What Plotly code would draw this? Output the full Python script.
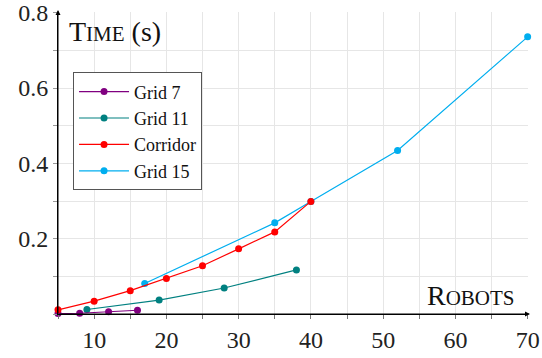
import plotly.graph_objects as go

grid7_x = [5, 8, 12, 16]
grid7_y = [0.001, 0.002, 0.006, 0.010]
grid11_x = [9, 19, 28, 38]
grid11_y = [0.012, 0.037, 0.069, 0.117]
corridor_x = [5, 10, 15, 20, 25, 30, 35, 40]
corridor_y = [0.011, 0.034, 0.062, 0.094, 0.128, 0.173, 0.218, 0.299]
grid15_x = [17, 35, 40, 52, 70]
grid15_y = [0.081, 0.242, 0.299, 0.434, 0.736]

x_ticks = [10, 20, 30, 40, 50, 60, 70]
y_ticks = [0.2, 0.4, 0.6, 0.8]

FONT = "Liberation Serif"

fig = go.Figure()
series = [
    ("Grid 7", grid7_x, grid7_y, "#800080"),
    ("Grid 11", grid11_x, grid11_y, "#008080"),
    ("Corridor", corridor_x, corridor_y, "#ff0000"),
    ("Grid 15", grid15_x, grid15_y, "#00aeef"),
]
order = [3, 1, 0, 2]
for i in order:
    name, xs, ys, c = series[i]
    fig.add_trace(go.Scatter(x=xs, y=ys, name=name, mode="lines+markers",
                             line=dict(color=c, width=1.2),
                             marker=dict(color=c, size=7),
                             legendrank=i + 1, cliponaxis=False))

fig.update_layout(
    width=542, height=358,
    margin=dict(l=58, r=14, t=11.5, b=43.5, autoexpand=False),
    plot_bgcolor="white", paper_bgcolor="white",
    font=dict(family=FONT, color="#222", size=24),
    showlegend=True,
    legend=dict(x=0.032, y=0.80, xanchor="left", yanchor="top",
                bgcolor="white", bordercolor="#555", borderwidth=1,
                font=dict(family=FONT, size=18, color="#111"),
                itemwidth=50),
    xaxis=dict(range=[5, 70.05], tickvals=x_ticks, showgrid=True, automargin=False,
               gridcolor="#e6e6e6", gridwidth=1, zeroline=False,
               showline=True, linecolor="black", linewidth=1,
               ticks="outside", ticklen=4, tickcolor="#777",
               ticklabeloverflow="allow",
               minor=dict(dtick=5, tick0=0, showgrid=True, gridcolor="#e6e6e6",
                          ticks="outside", ticklen=4, tickcolor="#777"),
               tickfont=dict(family=FONT, size=24, color="#222")),
    yaxis=dict(range=[0, 0.802], tickvals=y_ticks, ticktext=["0.2", "0.4", "0.6", "0.8"],
               showgrid=True, gridcolor="#e6e6e6", gridwidth=1, zeroline=False,
               automargin=False, ticklabeloverflow="allow",
               showline=True, linecolor="black", linewidth=1,
               ticks="outside", ticklen=4, tickcolor="#999",
               minor=dict(dtick=0.1, tick0=0, showgrid=True, gridcolor="#e6e6e6",
                          ticks="outside", ticklen=4, tickcolor="#999"),
               tickfont=dict(family=FONT, size=24, color="#222")),
)

# axis arrows
fig.add_annotation(xref="paper", yref="paper", x=1.0043, y=0, ax=-472, ay=0,
                   axref="pixel", ayref="pixel", text="", showarrow=True,
                   arrowhead=2, arrowsize=1, arrowwidth=1, arrowcolor="black")
fig.add_annotation(xref="paper", yref="paper", x=0, y=1.0066, ax=0, ay=305,
                   axref="pixel", ayref="pixel", text="", showarrow=True,
                   arrowhead=2, arrowsize=1, arrowwidth=1, arrowcolor="black")

# axis titles (small caps)
fig.add_annotation(xref="paper", yref="paper", x=0.019, y=0.937, xanchor="left",
                   yanchor="middle", showarrow=False,
                   text="T<span style='font-size:21px'>IME</span> (s)",
                   font=dict(family=FONT, size=28, color="#111"))
fig.add_annotation(xref="paper", yref="paper", x=0.977, y=0.061, xanchor="right",
                   yanchor="middle", showarrow=False,
                   text="R<span style='font-size:21px'>OBOTS</span>",
                   font=dict(family=FONT, size=28, color="#111"))

fig.write_html("out.html")
